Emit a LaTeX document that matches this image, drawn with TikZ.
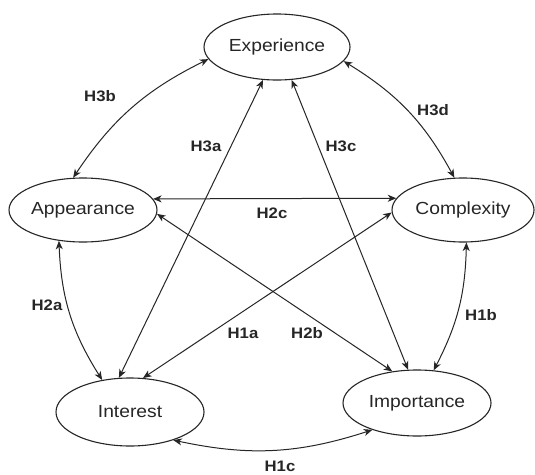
\documentclass[tikz,border=0pt]{standalone}
\usepackage{fontspec}
\setmainfont[FakeStretch=1.1]{Liberation Sans}
\usetikzlibrary{shapes.geometric,arrows.meta}
\begin{document}
\begin{tikzpicture}[x=1pt,y=-1pt,
  var/.style={ellipse,draw=black!85,line width=1.1pt,inner sep=0pt,
    font=\fontsize{17.5}{20}\selectfont,text=black!85},
  tip/.tip={Stealth[length=8.5pt,width=7pt,inset=2.5pt]},
  rel/.style={tip-tip,line width=1pt,draw=black!85},
  lab/.style={font=\bfseries\fontsize{15.2}{18}\selectfont,text=black!85}]
\useasboundingbox[fill=white] (0,0) rectangle (535,474);
% variables
\node[var,minimum width=146pt,minimum height=66pt] (exp) at (277,47) {Experience};
\node[var,minimum width=148pt,minimum height=64pt] (app) at (83,210) {Appearance};
\node[var,minimum width=142pt,minimum height=64pt] (com) at (463,210) {Complexity};
\node[var,minimum width=148pt,minimum height=68pt] (int) at (130,412) {Interest};
\node[var,minimum width=148pt,minimum height=66pt] (imp) at (417,403) {Importance};
% relations
\draw[rel] (app.107) to[bend left=15] (exp.190);
\draw[rel] (exp.348) to[bend left=15] (com.105);
\draw[rel] (int.108) -- (exp.247);
\draw[rel] (imp.105) -- (exp.294);
\draw[rel] (app.9) -- (com.170);
\draw[rel] (app.357) -- (imp.128);
\draw[rel] (com.182) -- (int.69);
\draw[rel] (app.232) to[bend right=15] (int.131);
\draw[rel] (com.276) to[bend left=13] (imp.63);
\draw[rel] (int.327) to[bend right=15] (imp.211);
% labels
\node[lab] (l3b) at (100,96) {H3b};
\node[lab] (l3d) at (433,110) {H3d};
\node[lab] (l3a) at (206,146) {H3a};
\node[lab] (l3c) at (341,146) {H3c};
\node[lab] (l2c) at (272,213) {H2c};
\node[lab] (l2a) at (47,305) {H2a};
\node[lab] (l1a) at (243,333) {H1a};
\node[lab] (l2b) at (307,333) {H2b};
\node[lab] (l1b) at (481,315) {H1b};
\node[lab,anchor=base] (l1c) at (280,471) {H1c};
\end{tikzpicture}
\end{document}
